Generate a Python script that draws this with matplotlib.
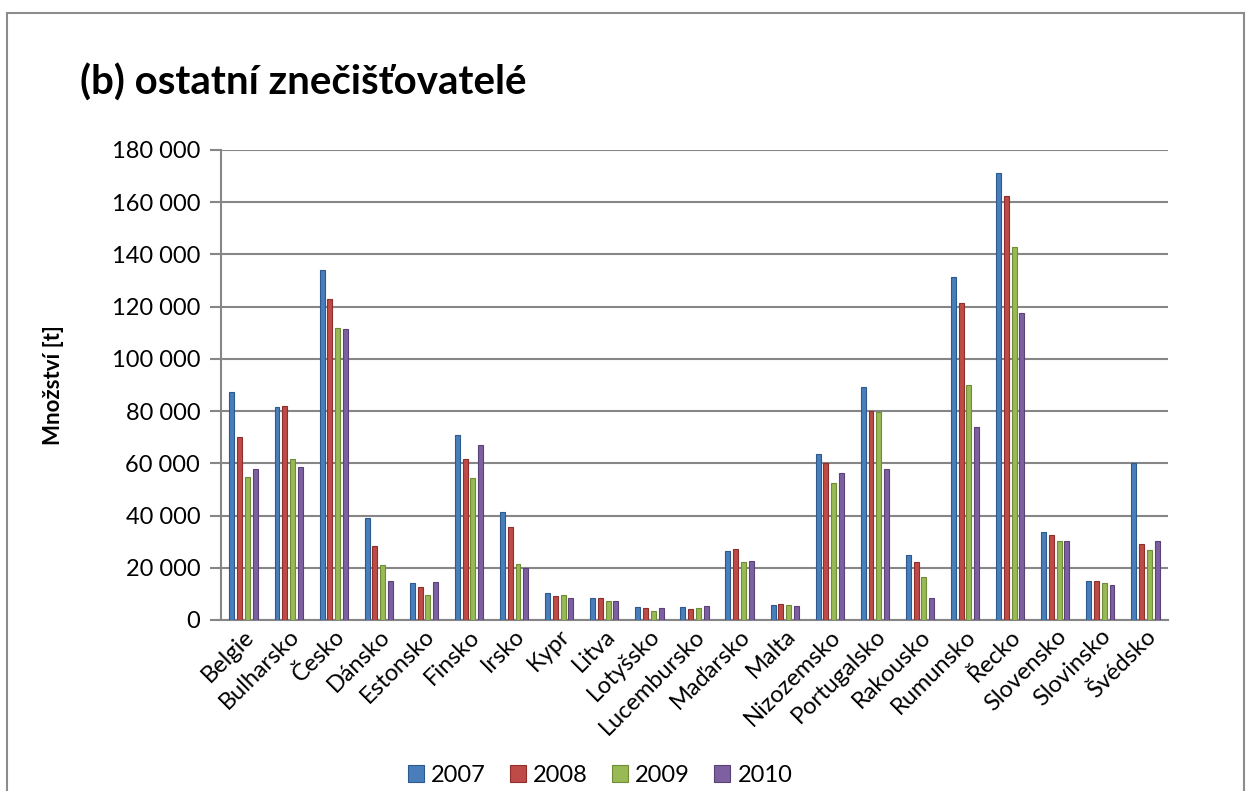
import numpy as np
import matplotlib
matplotlib.use("Agg")
from matplotlib import pyplot as plt
from matplotlib.patches import Rectangle
from matplotlib.ticker import FuncFormatter

countries = ["Belgie", "Bulharsko", "Česko", "Dánsko", "Estonsko", "Finsko", "Irsko",
             "Kypr", "Litva", "Lotyšsko", "Lucembursko", "Maďarsko", "Malta",
             "Nizozemsko", "Portugalsko", "Rakousko", "Rumunsko", "Řecko",
             "Slovensko", "Slovinsko", "Švédsko"]
years = ["2007", "2008", "2009", "2010"]

v2007 = [87300, 81500, 134000, 39000, 14000, 71000, 41500, 10300, 8400, 5100, 5100,
         26500, 5700, 63600, 89400, 24900, 131500, 171000, 33600, 15000, 60000]
v2008 = [70000, 82000, 123000, 28500, 12500, 61500, 35500, 9300, 8400, 4500, 4400,
         27300, 6200, 60000, 80000, 22200, 121400, 162400, 32700, 15000, 29100]
v2009 = [54800, 61500, 112000, 21000, 9500, 54500, 21500, 9600, 7200, 3600, 4500,
         22200, 5900, 52400, 79700, 16600, 90000, 143000, 30400, 14300, 26800]
v2010 = [57800, 58500, 111500, 15000, 14500, 67000, 20000, 8400, 7300, 4700, 5500,
         22700, 5500, 56200, 57700, 8500, 74000, 117500, 30400, 13300, 30300]

face = ["#4a7ebb", "#be4b48", "#98b954", "#7d60a0"]
edge = ["#2c5a8f", "#8e2f2c", "#6f8c36", "#5a4278"]

plt.rcParams['font.family'] = ['Lato', 'DejaVu Sans']

fig = plt.figure(figsize=(12.52, 7.91), dpi=100)
fig.patches.append(Rectangle((7 / 1252, -0.05), 1237 / 1252, 1.05 - 13 / 791,
                             transform=fig.transFigure, fill=False,
                             edgecolor="#8c8c8c", linewidth=1.5))

ax = fig.add_axes([221 / 1252, 1 - 620 / 791, 947 / 1252, 470 / 791])

x = np.arange(len(countries)) + 0.5
series = [v2007, v2008, v2009, v2010]
step = 0.172
for i, vals in enumerate(series):
    ax.bar(x + (i - 1.5) * step, vals, width=0.11, color=face[i],
           edgecolor=edge[i], linewidth=0.8, label=years[i], zorder=3)

ax.set_xlim(0, len(countries))
ax.set_ylim(0, 180000)
ax.set_yticks(np.arange(0, 180001, 20000))
ax.yaxis.set_major_formatter(FuncFormatter(lambda v, p: f"{int(v):,}".replace(",", " ")))
ax.grid(axis="y", color="#868686", linewidth=1.5, zorder=0)
for s in ["top", "right"]:
    ax.spines[s].set_visible(False)
ax.spines["left"].set_color("#868686")
ax.spines["left"].set_linewidth(1.5)
ax.spines["bottom"].set_color("#868686")
ax.spines["bottom"].set_linewidth(1.5)
ax.tick_params(axis="y", length=8, width=1.5, color="#868686", labelsize=17, pad=7)
ax.tick_params(axis="x", length=0, labelsize=17, pad=4)
ax.set_xticks(x)
ax.set_xticklabels(countries, rotation=45, ha="right", rotation_mode="anchor")
ax.set_ylabel("Množství [t]", fontsize=16, fontweight="bold", labelpad=34)

fig.text(80 / 1252, 1 - 95 / 791, "(b) ostatní znečišťovatelé", fontsize=29,
         fontweight="bold", ha="left", va="baseline")

fig.legend(loc="center", bbox_to_anchor=(600 / 1252, 1 - 775 / 791), ncol=4,
           frameon=False, fontsize=17, handlelength=0.7, handleheight=0.7,
           handletextpad=0.3, columnspacing=1.0)

fig.savefig("out.png", dpi=100)
